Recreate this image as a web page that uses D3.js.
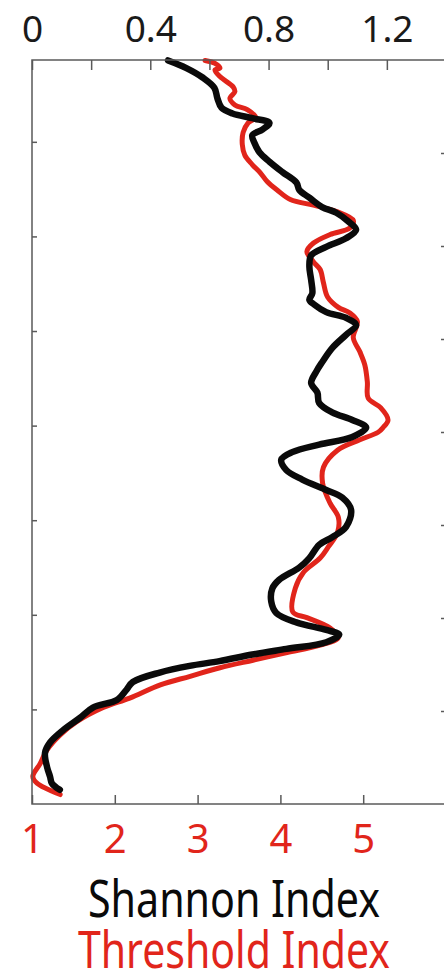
<!DOCTYPE html>
<html>
<head>
<meta charset="utf-8">
<script src="https://cdn.jsdelivr.net/npm/d3@7"></script>
<style>
  html, body { margin: 0; padding: 0; background: #fff; }
  svg { display: block; }
  text { font-family: "Noto Sans", "Open Sans", sans-serif; }
</style>
</head>
<body>
<svg id="chart" width="444" height="977"></svg>
<script>
// profile position (left axis units, 0 = bottom of the plot)
const shannonPos = [7.86, 7.78, 7.68, 7.57, 7.46, 7.36, 7.30, 7.25, 7.20, 7.13, 7.07, 6.99, 6.89, 6.79, 6.68, 6.57,
  6.49, 6.41, 6.31, 6.25, 6.15, 6.07, 5.98, 5.89, 5.80, 5.68, 5.54, 5.40, 5.33, 5.28,
  5.20, 5.14, 5.06, 4.96, 4.82, 4.67, 4.57, 4.45, 4.35, 4.24, 4.14, 4.06, 3.98,
  3.88, 3.80, 3.72, 3.64, 3.53, 3.43, 3.32, 3.24, 3.11, 2.93, 2.82, 2.74, 2.60,
  2.50, 2.37, 2.28, 2.14, 2.02, 1.92, 1.84, 1.79, 1.71, 1.64, 1.58, 1.51, 1.46, 1.39,
  1.29, 1.21, 1.10, 1.02, 0.91, 0.78, 0.65, 0.54, 0.39, 0.29, 0.22, 0.15];
const shannonValue = [0.460, 0.522, 0.577, 0.617, 0.627, 0.641, 0.678, 0.745, 0.803, 0.779, 0.745, 0.752, 0.769, 0.803, 0.847, 0.894,
  0.904, 0.938, 0.981, 1.029, 1.073, 1.096, 1.062, 0.995, 0.944, 0.938, 0.944, 0.948, 0.938, 0.954,
  0.995, 1.062, 1.096, 1.062, 1.015, 0.981, 0.961, 0.944, 0.965, 0.971, 1.015, 1.083, 1.130,
  1.083, 0.971, 0.880, 0.843, 0.860, 0.914, 0.995, 1.049, 1.079, 1.062, 1.015, 0.971, 0.938,
  0.904, 0.836, 0.813, 0.809, 0.826, 0.894, 0.995, 1.039, 0.995, 0.860, 0.745, 0.634, 0.533, 0.432,
  0.341, 0.320, 0.287, 0.206, 0.162, 0.105, 0.061, 0.044, 0.051, 0.061, 0.067, 0.094];

const thresholdPos = [7.86, 7.83, 7.78, 7.76, 7.69, 7.58, 7.53, 7.46, 7.39, 7.34, 7.26, 7.20, 7.10, 6.97, 6.86, 6.76, 6.67,
  6.58, 6.49, 6.39, 6.33, 6.26, 6.17, 6.09, 6.02, 5.93, 5.84, 5.73, 5.65, 5.51, 5.36,
  5.25, 5.19, 5.10, 4.93, 4.78, 4.64, 4.46, 4.29, 4.19, 4.06, 3.98, 3.93,
  3.85, 3.74, 3.56, 3.39, 3.18, 3.03, 2.87, 2.72, 2.60, 2.45, 2.28, 2.03, 1.97, 1.86, 1.76,
  1.68, 1.60, 1.52, 1.44, 1.35, 1.26, 1.12, 1.02, 0.87, 0.73, 0.57, 0.43, 0.29, 0.22, 0.10];
const thresholdValue = [3.09, 3.21, 3.27, 3.21, 3.27, 3.43, 3.45, 3.39, 3.45, 3.60, 3.70, 3.61, 3.55, 3.54, 3.57, 3.66, 3.76,
  3.84, 3.96, 4.12, 4.40, 4.69, 4.88, 4.84, 4.60, 4.40, 4.32, 4.40, 4.48, 4.52, 4.57,
  4.70, 4.84, 4.93, 4.88, 4.96, 5.02, 5.05, 5.06, 5.21, 5.30, 5.24, 5.18,
  4.96, 4.69, 4.52, 4.51, 4.60, 4.70, 4.69, 4.58, 4.48, 4.28, 4.18, 4.15, 4.32, 4.60, 4.70,
  4.48, 4.08, 3.67, 3.27, 2.91, 2.55, 2.18, 1.86, 1.54, 1.34, 1.18, 1.10, 1.01, 1.06, 1.34];

const shannonTicks = [0, 0.2, 0.4, 0.6, 0.8, 1.0, 1.2, 1.4];
const shannonLabels = [0, 0.4, 0.8, 1.2];
const thresholdTicks = [1, 2, 3, 4, 5, 6];
const thresholdLabels = [1, 2, 3, 4, 5];
const leftTicks = [1, 2, 3, 4, 5, 6, 7];
const rightTicks = [1, 2, 3, 4, 5, 6, 7];

const RED = '#e1251b';
const AXIS = '#5a5a5a';

const box = { left: 32, right: 446, top: 60, bottom: 804 };
const svg = d3.select('#chart');

const xShannon = d3.scaleLinear().domain([0, 1.4]).range([box.left, box.right]);
const xThreshold = d3.scaleLinear().domain([1, 6]).range([box.left, box.right]);
const yLeft = d3.scaleLinear().domain([0, 7.865]).range([box.bottom, box.top]);
const yRight = d3.scaleLinear().domain([0, 8]).range([box.bottom, box.top]);

// series
const profileLine = (xs, vals, pos) => d3.line()
  .x((d, i) => xs(vals[i]))
  .y((d, i) => yLeft(pos[i]))
  .curve(d3.curveCatmullRom.alpha(0.5));

svg.append('path')
  .datum(thresholdPos)
  .attr('d', profileLine(xThreshold, thresholdValue, thresholdPos))
  .attr('fill', 'none')
  .attr('stroke', RED)
  .attr('stroke-width', 5)
  .attr('stroke-linejoin', 'round')
  .attr('stroke-linecap', 'round');

svg.append('path')
  .datum(shannonPos)
  .attr('d', profileLine(xShannon, shannonValue, shannonPos))
  .attr('fill', 'none')
  .attr('stroke', '#0a0a0a')
  .attr('stroke-width', 6.5)
  .attr('stroke-linejoin', 'round')
  .attr('stroke-linecap', 'round');

// axes
function styleAxis(g) {
  g.select('.domain').remove();
  g.selectAll('.tick line').attr('stroke', AXIS).attr('stroke-width', 1.5);
}

const topAxis = svg.append('g')
  .attr('transform', `translate(0,${box.top})`)
  .call(d3.axisTop(xShannon).tickValues(shannonTicks).tickSizeInner(-10).tickSizeOuter(0)
    .tickFormat((d) => (shannonLabels.some((v) => Math.abs(v - d) < 1e-9) ? d3.format('~g')(d) : '')))
  .call(styleAxis);
topAxis.selectAll('.tick text')
  .attr('y', -18).attr('dy', 0)
  .attr('font-size', 37).attr('fill', '#1a1a1a')
  .style('font-family', '"Noto Sans", sans-serif');

const bottomAxis = svg.append('g')
  .attr('transform', `translate(0,${box.bottom})`)
  .call(d3.axisBottom(xThreshold).tickValues(thresholdTicks).tickSizeInner(-9).tickSizeOuter(0)
    .tickFormat((d) => (thresholdLabels.includes(d) ? d : '')))
  .call(styleAxis);
bottomAxis.selectAll('.tick text')
  .attr('y', 49).attr('dy', 0)
  .attr('font-size', 40).attr('fill', RED)
  .style('font-family', '"Noto Sans", sans-serif');

svg.append('g')
  .attr('transform', `translate(${box.left},0)`)
  .call(d3.axisLeft(yLeft).tickValues(leftTicks).tickSizeInner(-5).tickSizeOuter(0).tickFormat(''))
  .call(styleAxis);

svg.append('g')
  .attr('transform', `translate(${box.right},0)`)
  .call(d3.axisRight(yRight).tickValues(rightTicks).tickSizeInner(-5).tickSizeOuter(0).tickFormat(''))
  .call(styleAxis);

// frame
svg.append('rect')
  .attr('x', box.left).attr('y', box.top)
  .attr('width', box.right - box.left).attr('height', box.bottom - box.top)
  .attr('fill', 'none').attr('stroke', AXIS).attr('stroke-width', 1.5);

// titles
svg.append('text')
  .attr('x', 234).attr('y', 917)
  .attr('text-anchor', 'middle')
  .attr('font-size', 51).attr('fill', '#0a0a0a')
  .attr('textLength', 292).attr('lengthAdjust', 'spacingAndGlyphs')
  .text('Shannon Index');

svg.append('text')
  .attr('x', 234).attr('y', 968)
  .attr('text-anchor', 'middle')
  .attr('font-size', 51).attr('fill', RED)
  .attr('textLength', 312).attr('lengthAdjust', 'spacingAndGlyphs')
  .text('Threshold Index');
</script>
</body>
</html>
